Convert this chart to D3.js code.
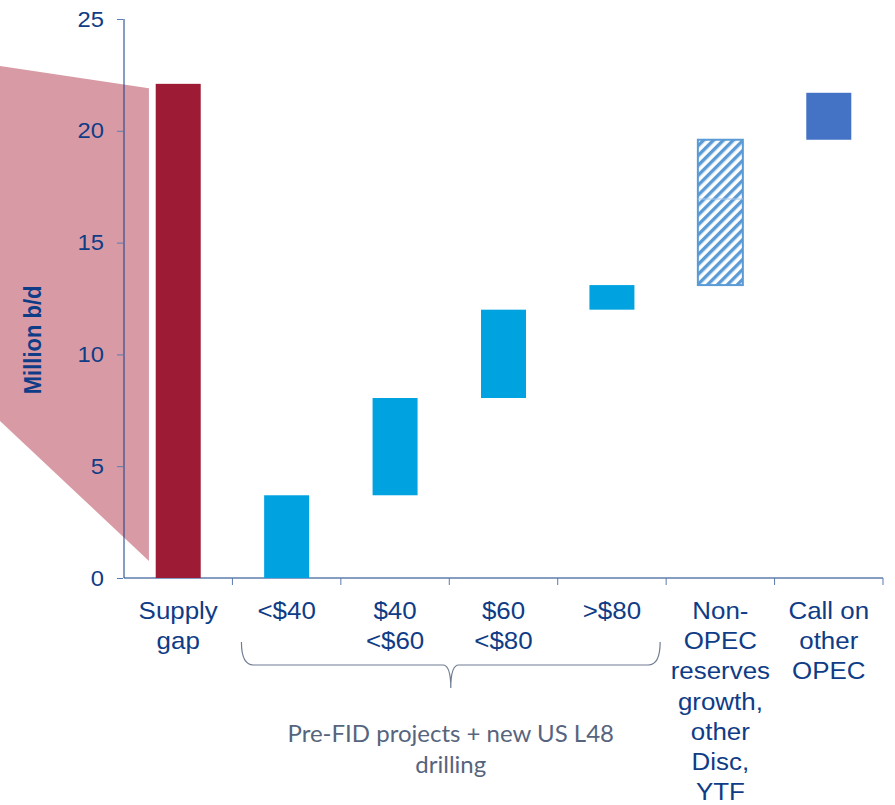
<!DOCTYPE html>
<html>
<head>
<meta charset="utf-8">
<script src="https://cdn.jsdelivr.net/npm/d3@7"></script>
<style>
  body { margin: 0; background: #fff; }
  svg { display: block; }
</style>
</head>
<body>
<div id="chart"></div>
<script>
/* supply gap waterfall - million b/d */

// categories and their label lines
const categories = ["Supply gap", "<$40", "$40-$60", "$60-$80", ">$80", "Non-OPEC", "Call on OPEC"];
const labelLines = [
    ["Supply", "gap"],
    ["<$40"],
    ["$40", "<$60"],
    ["$60", "<$80"],
    [">$80"],
    ["Non-", "OPEC", "reserves", "growth,", "other", "Disc,", "YTF"],
    ["Call on", "other", "OPEC"]
];
// floating bars: start and end values
const barStart = [0, 0, 3.7, 8.05, 12.0, 13.1, 19.6];
const barEnd   = [22.1, 3.7, 8.05, 12.0, 13.1, 19.6, 21.7];
const barKind  = ["gap", "cost", "cost", "cost", "cost", "hatch", "opec"];
// the hatched bar is split in two pieces
const hatchSplit = 16.95;
const yTicks = [0, 5, 10, 15, 20, 25];
// wedge behind the axis (x in category units, y in million b/d)
const wedge = [[-1.15, 22.9], [0.23, 21.9], [0.23, 0.76], [-1.15, 7.05]];
const braceNote = ["Pre-FID projects + new US L48", "drilling"];

const width = 895,
      height = 805,
      margin = ({ top: 19, right: 12, bottom: 227, left: 124 });

const navy = "#0f3c86";
const arial = "'Liberation Sans', Arial, Helvetica, sans-serif";
const stretch = 1.08;   // the original text is a bit wide
const colors = { gap: "#9e1b35", cost: "#00a3e0", opec: "#4472c4", hatch: "#5b9bd5" };

let svg = d3.select("#chart")
    .append("svg")
    .attr("width", width)
    .attr("height", height);

let x = d3.scaleBand()
    .domain(categories)
    .range([margin.left, width - margin.right])
    .padding(0);

// continuous version of the category axis for the wedge
let xu = d3.scaleLinear()
    .domain([0, categories.length])
    .range([margin.left, width - margin.right]);

let y = d3.scaleLinear()
    .domain([0, 25])
    .range([height - margin.bottom, margin.top]);

const barW = x.bandwidth() * 0.415;

// hatch pattern
let defs = svg.append("defs");
let pat = defs.append("pattern")
    .attr("id", "hatch")
    .attr("patternUnits", "userSpaceOnUse")
    .attr("width", 7)
    .attr("height", 7)
    .attr("patternTransform", "rotate(45)");
pat.append("rect").attr("width", 7).attr("height", 7).attr("fill", "#fff");
pat.append("rect").attr("width", 3.4).attr("height", 7).attr("fill", colors.hatch);

// wedge
svg.append("path")
    .attr("d", d3.line().x(d => xu(d[0])).y(d => y(d[1]))(wedge) + "Z")
    .attr("fill", "#d89ba6");

// axes
svg.append("g")
    .attr("transform", `translate(${margin.left},0)`)
    .call(d3.axisLeft(y).tickValues(yTicks).tickSize(7))
    .call(g => g.select(".domain").attr("stroke", navy).attr("d", `M0,${y(25)}V${y(0)}`))
    .call(g => g.selectAll(".tick line").attr("stroke", "#5a7bb0").attr("x1", -1))
    .call(g => g.selectAll(".tick text")
        .attr("x", 0)
        .attr("transform", `translate(-20,0) scale(${stretch},1)`)
        .attr("fill", navy)
        .style("font-family", arial)
        .style("font-size", "22px"));

svg.append("g")
    .attr("transform", `translate(0,${y(0)})`)
    .call(d3.axisBottom(x).tickSize(0).tickFormat(""))
    .call(g => g.select(".domain").attr("stroke", navy).attr("d", `M${margin.left},0H${width - margin.right}`));

// category boundary ticks
svg.append("g")
    .selectAll("line")
    .data(categories)
    .join("line")
    .attr("x1", d => x(d) + x.bandwidth())
    .attr("x2", d => x(d) + x.bandwidth())
    .attr("y1", y(0))
    .attr("y2", y(0) + 7)
    .attr("stroke", "#5a7bb0");

// bars
let data = categories.map((c, i) => ({ c, s: barStart[i], e: barEnd[i], k: barKind[i] }));

svg.selectAll(".bar")
    .data(data)
    .join("rect")
    .attr("class", "bar")
    .attr("x", d => x(d.c) + (x.bandwidth() - barW) / 2)
    .attr("width", barW)
    .attr("y", d => y(d.e))
    .attr("height", d => y(d.s) - y(d.e))
    .attr("fill", d => d.k === "hatch" ? "url(#hatch)" : colors[d.k])
    .attr("stroke", d => d.k === "hatch" ? colors.hatch : "none")
    .attr("stroke-width", 2);

// split line inside hatched bar
let hb = data.find(d => d.k === "hatch");
svg.append("line")
    .attr("x1", x(hb.c) + (x.bandwidth() - barW) / 2)
    .attr("x2", x(hb.c) + (x.bandwidth() + barW) / 2)
    .attr("y1", y(hatchSplit))
    .attr("y2", y(hatchSplit))
    .attr("stroke", "#a9c8ea")
    .attr("stroke-width", 1);

// category labels
let lab = svg.append("g")
    .style("font-family", arial)
    .style("font-size", "24px")
    .attr("fill", navy)
    .attr("text-anchor", "middle");

categories.forEach((c, i) => {
    lab.append("text")
        .attr("transform", `translate(${x(c) + x.bandwidth() / 2},${y(0) + 41}) scale(${stretch},1)`)
        .selectAll("tspan")
        .data(labelLines[i])
        .join("tspan")
        .attr("x", 0)
        .attr("y", (d, j) => j * 30.2)
        .text(d => d);
});

// brace under the price buckets
const bx0 = x("<$40") + 9,
      bx1 = x(">$80") + x.bandwidth() - 6,
      bm = (bx0 + bx1) / 2,
      by0 = y(0) + 64,
      by1 = y(0) + 87,
      by2 = y(0) + 110;

svg.append("path")
    .attr("d", `M${bx0},${by0} Q${bx0},${by1} ${bx0 + 12},${by1} L${bm - 8},${by1}
                Q${bm},${by1} ${bm},${by2} Q${bm},${by1} ${bm + 8},${by1}
                L${bx1 - 12},${by1} Q${bx1},${by1} ${bx1},${by0}`)
    .attr("fill", "none")
    .attr("stroke", "#6f7d93")
    .attr("stroke-width", 1.2);

svg.append("text")
    .attr("text-anchor", "middle")
    .style("font-family", "Lato, 'Open Sans', sans-serif")
    .style("font-size", "24px")
    .attr("fill", "#56657d")
    .selectAll("tspan")
    .data(braceNote)
    .join("tspan")
    .attr("x", bm)
    .attr("y", (d, i) => y(0) + 164 + i * 31)
    .text(d => d);

// y axis title
svg.append("text")
    .attr("transform", `translate(41,${y(10.65)}) scale(${stretch},1) rotate(-90)`)
    .attr("text-anchor", "middle")
    .style("font-family", arial)
    .style("font-weight", "bold")
    .style("font-size", "22px")
    .attr("fill", navy)
    .text("Million b/d");
</script>
</body>
</html>
